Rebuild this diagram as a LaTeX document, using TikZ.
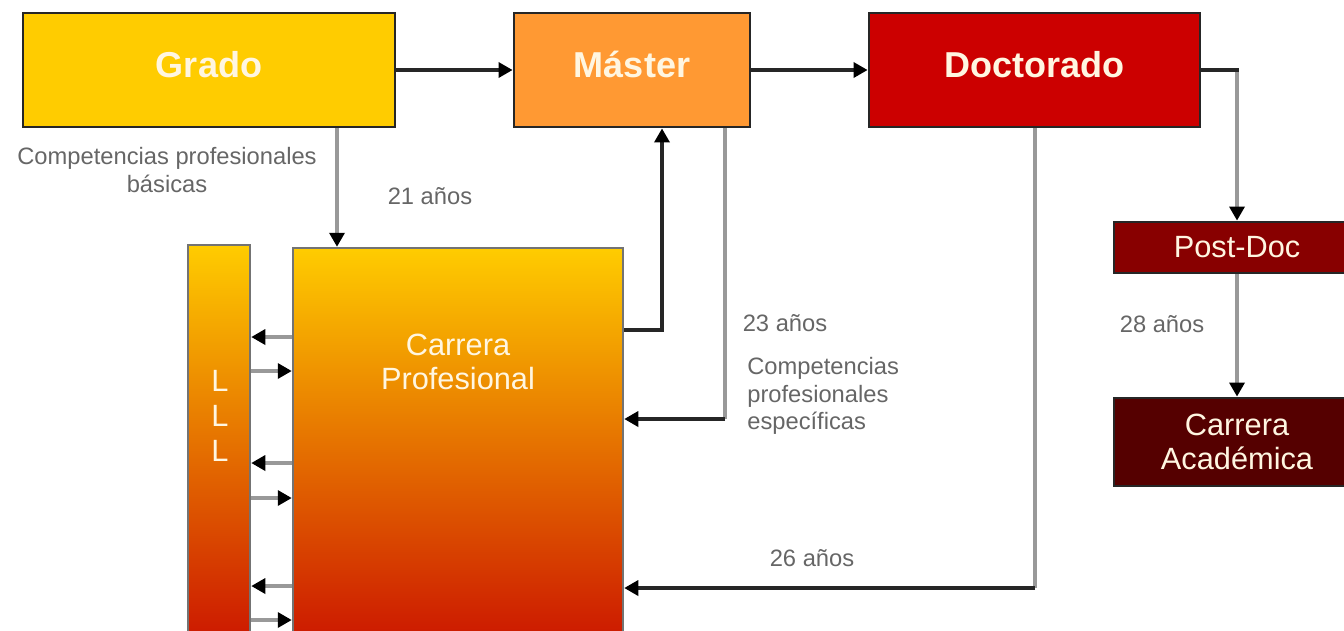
\documentclass[tikz,border=0pt]{standalone}
\usepackage{fontspec}
\setmainfont{Liberation Sans}
\usetikzlibrary{arrows.meta}
\definecolor{grado}{RGB}{255,204,0}
\definecolor{master}{RGB}{255,153,51}
\definecolor{doct}{RGB}{204,0,0}
\definecolor{postdoc}{RGB}{136,0,0}
\definecolor{acad}{RGB}{85,0,0}
\definecolor{carrmid}{RGB}{236,150,0}
\definecolor{carrbot}{RGB}{204,24,0}
\definecolor{txtw}{RGB}{255,246,225}
\begin{document}
\begin{tikzpicture}[x=0.02cm,y=-0.02cm,>={Triangle[length=8pt,width=8.5pt,color=black]},mybox/.style={rectangle, draw=black!85, line width=1.6pt, text=txtw, inner sep=0pt, text height=15pt, text depth=7pt, font=\fontsize{20.5}{24}\selectfont\bfseries},mybox1/.style={rectangle, draw=black!85, line width=1.6pt, text=txtw, inner sep=0pt, align=center, font=\fontsize{17.5}{19.5}\selectfont},mybar/.style={rectangle, draw=black!55, line width=1.4pt, inner sep=0pt, top color=grado, middle color=carrmid, bottom color=carrbot},mytxt/.style={text=black!60, inner sep=0pt, font=\fontsize{13.5}{15.6}\selectfont},myarr/.style={->, line width=2.1pt, black!85},myline/.style={->, line width=2.1pt, black!40}]
  \useasboundingbox (0,0) rectangle (1344,630);
  \clip (0,0) rectangle (1344,630);
  % \node (z) at (672,315) {};

  \node[mybox, fill=grado, minimum width=7.44cm, minimum height=2.28cm] (grado) at (209,70) {Grado};
  \node[mybox, fill=master, minimum width=4.72cm, minimum height=2.28cm] (master) at (632,70) {Máster};
  \node[mybox, fill=doct, minimum width=6.62cm, minimum height=2.28cm] (doct) at (1034.5,70) {Doctorado};

  \node[mybox1, fill=postdoc, minimum width=4.92cm, minimum height=1.02cm] (postdoc) at (1237,247.5) {Post-Doc};
  \node[mybox1, fill=acad, minimum width=4.92cm, minimum height=1.76cm] (acad) at (1237,442) {Carrera\\Académica};

  \node[mybar, minimum width=6.6cm, minimum height=7.84cm] (carrera) at (458,444) {};
  \node[mybar, minimum width=1.24cm, minimum height=7.9cm] (lll) at (219,442.5) {};
  \node[mybox1, draw=none] (cptxt) at (458,362) {Carrera\\Profesional};
  \node[mybox1, draw=none, font=\fontsize{17.5}{19.8}\selectfont] (ltxt) at (220,416) {L\\L\\L};

  \node[mytxt, align=center] (basic) at (167,170) {Competencias profesionales\\básicas};
  \node[mytxt] (a21) at (430,196) {21 años};
  \node[mytxt] (a23) at (785,323) {23 años};
  \node[mytxt, align=left, anchor=west] (espec) at (747,396) {Competencias\\profesionales\\específicas};
  \node[mytxt] (a26) at (812,558) {26 años};
  \node[mytxt] (a28) at (1162,324) {28 años};

  \coordinate (m1) at (725,419);
  \coordinate (d1) at (1035,588);

    \draw[myarr] (grado.east) -- (master.west);
    \draw[myarr] (master.east) -- (doct.west);
    \draw[myline] (grado.south -| 337,0) -- (337,0 |- carrera.north);
    \draw[myarr] (carrera.east |- 0,330) -| (master.south -| 662,0);
    \draw[myline,-] (master.south -| m1) -- (m1);
    \draw[myarr] (m1) -- (carrera.east |- m1);
    \draw[myline,-] (doct.south -| d1) -- (d1);
    \draw[myarr] (d1) -- (carrera.east |- d1);
    \draw[myline] (doct.east -| postdoc.north) -- (postdoc.north);
    \draw[myarr,-,shorten >=-1pt] (doct.east) -- (doct.east -| postdoc.north);
    \draw[myline] (postdoc.south) -- (acad.north);
    \foreach \ya/\yb in {337/371,463/498,586/620}
    {
    \draw[myline] (carrera.west |- 0,\ya) -- (lll.east |- 0,\ya);
    \draw[myline] (lll.east |- 0,\yb) -- (carrera.west |- 0,\yb);
    }

\end{tikzpicture}
\end{document}
